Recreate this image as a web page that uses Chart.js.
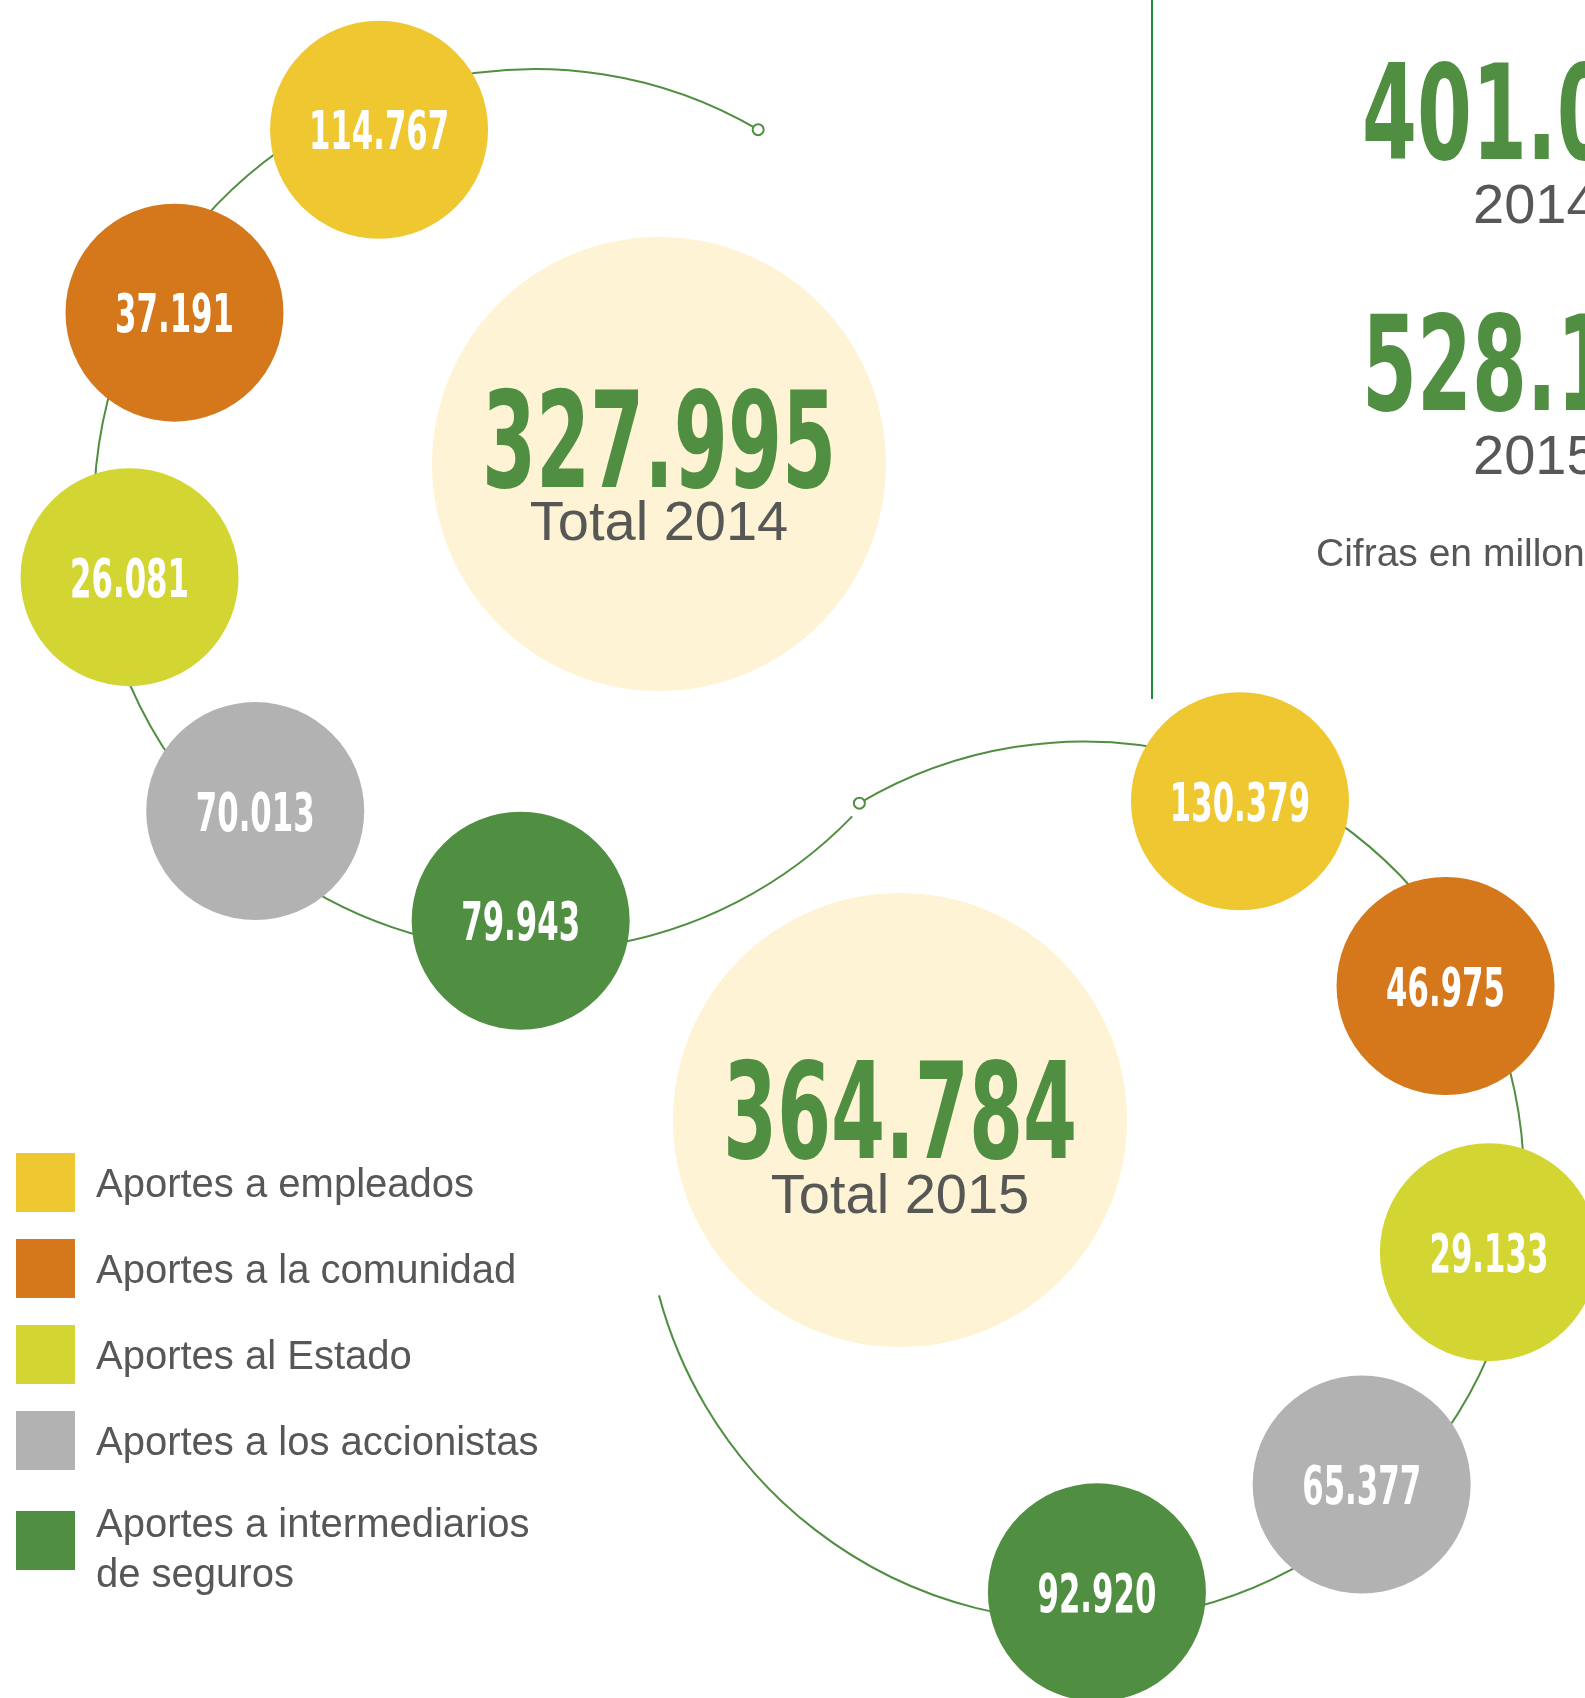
<!DOCTYPE html>
<html lang="es">
<head>
<meta charset="utf-8">
<title>Valor económico distribuido 2014 - 2015</title>
<script src="https://cdn.jsdelivr.net/npm/chart.js@4.4.1/dist/chart.umd.min.js"></script>
<style>
    html, body { margin: 0; padding: 0; background: #fff; }
    #contenedor { width: 1585px; height: 1698px; overflow: hidden; }
</style>
</head>
<body>
<div id="contenedor"><canvas id="grafico" width="1585" height="1698"></canvas></div>
<script>
// --- DATOS ---
const categorias = [
    'Aportes a empleados',
    'Aportes a la comunidad',
    'Aportes al Estado',
    'Aportes a los accionistas',
    'Aportes a intermediarios de seguros'
];
const colores = ['#EEC731', '#D5781C', '#D3D532', '#B2B2B2', '#508E41'];
const valores2014 = [114767, 37191, 26081, 70013, 79943];
const valores2015 = [130379, 46975, 29133, 65377, 92920];
const totales = [327995, 364784];
const etiquetasTotales = ['Total 2014', 'Total 2015'];
const cifrasLaterales = ['401.0', '528.1'];
const aniosLaterales = ['2014', '2015'];
const notaCifras = 'Cifras en millones';

// --- DISEÑO (posiciones en píxeles del lienzo) ---
const ANCHO = 1585, ALTO = 1698;
const VERDE = '#508E41';
const GRIS_TEXTO = '#575756';
const CREMA = '#FEF4D5';
const R_CIRCULO = 109, R_TOTAL = 227;
const anillos = [
    { cx: 535, cy: 510, r: 411, angulos: [247.7, 208.7, 170.6, 132.9, 92.0],
      arco: { r: 441, desde: -59.6, hasta: 44, antihorario: true } },
    { cx: 1084, cy: 1181.5, r: 411, angulos: [-67.7, -28.4, 9.9, 47.5, 88.2],
      arco: { r: 440, desde: -120.7, hasta: 165, antihorario: false } }
];
const centrosTotales = [{ x: 659, y: 464, dyNum: 23, dyTxt: 76 }, { x: 900, y: 1120, dyNum: 38, dyTxt: 93 }];

const rad = g => g * Math.PI / 180;
const formato = v => String(v).replace(/\B(?=(\d{3})+(?!\d))/g, '.');

function puntosAnillo(anillo) {
    return anillo.angulos.map(g => ({
        x: anillo.cx + anillo.r * Math.cos(rad(g)),
        y: anillo.cy + anillo.r * Math.sin(rad(g)),
        r: R_CIRCULO
    }));
}

const marcadores = anillos.map(a => ({
    x: a.cx + a.arco.r * Math.cos(rad(a.arco.desde)),
    y: a.cy + a.arco.r * Math.sin(rad(a.arco.desde)),
    r: 5.5
}));

const FUENTE = '"Liberation Sans", Arial, Helvetica, sans-serif';
const FUENTE_NUM = '"DejaVu Sans Condensed", "DejaVu Sans", sans-serif';

function textoCondensado(ctx, texto, x, y, tam, escalaX, color, alinear) {
    ctx.save();
    ctx.font = `bold ${tam}px ${FUENTE_NUM}`;
    ctx.fillStyle = color;
    ctx.textAlign = alinear;
    ctx.textBaseline = 'alphabetic';
    ctx.translate(x, y);
    ctx.scale(escalaX, 1);
    ctx.fillText(texto, 0, 0);
    ctx.restore();
}

function texto(ctx, t, x, y, tam, color, alinear) {
    ctx.font = `${tam}px ${FUENTE}`;
    ctx.fillStyle = color;
    ctx.textAlign = alinear;
    ctx.textBaseline = 'alphabetic';
    ctx.fillText(t, x, y);
}

function partirLineas(ctx, t, maxAncho) {
    const palabras = t.split(' ');
    const lineas = [];
    let actual = '';
    palabras.forEach(p => {
        const prueba = actual ? actual + ' ' + p : p;
        if (ctx.measureText(prueba).width > maxAncho && actual) {
            lineas.push(actual);
            actual = p;
        } else {
            actual = prueba;
        }
    });
    lineas.push(actual);
    return lineas;
}

const decoracion = {
    id: 'decoracion',
    beforeDatasetsDraw(chart) {
        const ctx = chart.ctx;
        const sx = chart.scales.x, sy = chart.scales.y;
        ctx.save();
        // linea vertical separadora
        ctx.strokeStyle = '#1F8B3B';
        ctx.lineWidth = 2;
        ctx.beginPath();
        ctx.moveTo(sx.getPixelForValue(1152), sy.getPixelForValue(0));
        ctx.lineTo(sx.getPixelForValue(1152), sy.getPixelForValue(699));
        ctx.stroke();
        // arcos
        ctx.strokeStyle = VERDE;
        ctx.lineWidth = 2;
        anillos.forEach(a => {
            const cx = sx.getPixelForValue(a.cx), cy = sy.getPixelForValue(a.cy);
            const r = sx.getPixelForValue(a.cx + a.arco.r) - cx;
            ctx.beginPath();
            ctx.arc(cx, cy, r, rad(a.arco.desde), rad(a.arco.hasta), a.arco.antihorario);
            ctx.stroke();
        });
        ctx.restore();
    },
    afterDatasetsDraw(chart) {
        const ctx = chart.ctx;
        const sx = chart.scales.x, sy = chart.scales.y;
        ctx.save();

        // valores de cada círculo
        [valores2014, valores2015].forEach((valores, k) => {
            chart.getDatasetMeta(k + 1).data.forEach((el, i) => {
                textoCondensado(ctx, formato(valores[i]), el.x, el.y + 19.5, 53.5, 0.64, '#FFFFFF', 'center');
            });
        });

        // totales
        chart.getDatasetMeta(3).data.forEach((el, i) => {
            const c = centrosTotales[i];
            textoCondensado(ctx, formato(totales[i]), el.x, el.y + c.dyNum, 133, 0.65, VERDE, 'center');
            texto(ctx, etiquetasTotales[i], el.x, el.y + c.dyTxt, 56, GRIS_TEXTO, 'center');
        });

        // cifras laterales
        const basesCifra = [159, 410], basesAnio = [223, 474];
        cifrasLaterales.forEach((c, i) => {
            textoCondensado(ctx, c, sx.getPixelForValue(1362), sy.getPixelForValue(basesCifra[i]), 131, 0.67, VERDE, 'left');
            texto(ctx, aniosLaterales[i], sx.getPixelForValue(1473), sy.getPixelForValue(basesAnio[i]), 56, GRIS_TEXTO, 'left');
        });
        texto(ctx, notaCifras, sx.getPixelForValue(1316), sy.getPixelForValue(566), 39, GRIS_TEXTO, 'left');

        // leyenda
        categorias.forEach((cat, i) => {
            ctx.font = `40px ${FUENTE}`;
            const lineas = partirLineas(ctx, cat, 470);
            const top = 1153 + i * 86 + (lineas.length > 1 ? 14 : 0);
            ctx.fillStyle = colores[i];
            ctx.fillRect(sx.getPixelForValue(16), sy.getPixelForValue(top), 59, 59);
            const base = lineas.length > 1 ? top + 26 : top + 44;
            lineas.forEach((l, j) => texto(ctx, l, sx.getPixelForValue(96), sy.getPixelForValue(base + j * 50), 40, GRIS_TEXTO, 'left'));
        });
        ctx.restore();
    }
};

new Chart(document.getElementById('grafico'), {
    type: 'bubble',
    data: {
        datasets: [
            { label: 'marcadores', data: marcadores, backgroundColor: '#FFFFFF', borderColor: VERDE, borderWidth: 2, order: 0, clip: false },
            { label: '2014', data: puntosAnillo(anillos[0]), backgroundColor: colores, borderWidth: 0, order: 1, clip: false },
            { label: '2015', data: puntosAnillo(anillos[1]), backgroundColor: colores, borderWidth: 0, order: 2, clip: false },
            { label: 'Totales', data: centrosTotales.map(c => ({ x: c.x, y: c.y, r: R_TOTAL })), backgroundColor: CREMA, borderWidth: 0, order: 3, clip: false }
        ]
    },
    options: {
        responsive: false,
        animation: false,
        events: [],
        layout: { padding: 0, autoPadding: false },
        scales: {
            x: { type: 'linear', min: 0, max: ANCHO, display: false },
            y: { type: 'linear', min: 0, max: ALTO, reverse: true, display: false }
        },
        plugins: { legend: { display: false }, tooltip: { enabled: false } }
    },
    plugins: [decoracion]
});
</script>
</body>
</html>
